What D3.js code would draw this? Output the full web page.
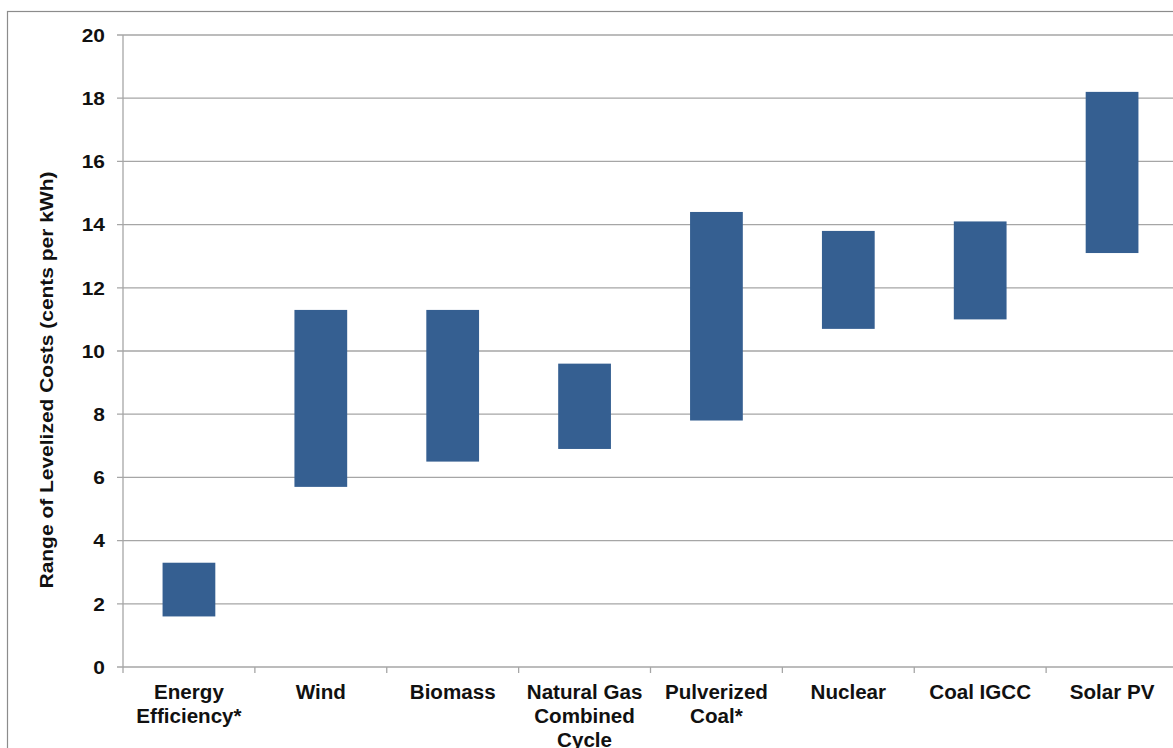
<!DOCTYPE html>
<html>
<head>
<meta charset="utf-8">
<script src="https://cdn.jsdelivr.net/npm/d3@7"></script>
<style>
  html, body { margin: 0; padding: 0; background: #fff; overflow: hidden; }
  text { font-family: "Liberation Sans", Arial, sans-serif; font-weight: bold; fill: #111; }
</style>
</head>
<body>
<div id="chart"></div>
<script>
// categories and low/high of levelized cost range (cents per kWh)
var categories = ["Energy Efficiency*", "Wind", "Biomass", "Natural Gas Combined Cycle",
    "Pulverized Coal*", "Nuclear", "Coal IGCC", "Solar PV"];
var labelLines = [["Energy", "Efficiency*"], ["Wind"], ["Biomass"], ["Natural Gas", "Combined", "Cycle"],
    ["Pulverized", "Coal*"], ["Nuclear"], ["Coal IGCC"], ["Solar PV"]];
var lowValues  = [1.6, 5.7, 6.5, 6.9, 7.8, 10.7, 11.0, 13.1];
var highValues = [3.3, 11.3, 11.3, 9.6, 14.4, 13.8, 14.1, 18.2];
var yTicks = [0, 2, 4, 6, 8, 10, 12, 14, 16, 18, 20];

var width = 1173, height = 748;
var margin = { top: 35, left: 123, bottom: 81 };
var plotRight = 1178;

var svg = d3.select("#chart").append("svg")
    .attr("width", width)
    .attr("height", height);

// outer frame
svg.append("rect")
    .attr("x", 7.5).attr("y", 11.5)
    .attr("width", 1200).attr("height", 800)
    .attr("fill", "none")
    .attr("stroke", "#8c8c8c")
    .attr("stroke-width", 1.2);

var x = d3.scaleBand()
    .domain(categories)
    .range([margin.left, plotRight])
    .paddingInner(0.6)
    .paddingOuter(0.3);

var y = d3.scaleLinear()
    .domain([0, 20])
    .range([height - margin.bottom, margin.top]);

// gridlines
svg.append("g")
    .selectAll("line")
    .data(yTicks)
    .enter().append("line")
    .attr("x1", margin.left - 6)
    .attr("x2", width)
    .attr("y1", function(d) { return y(d); })
    .attr("y2", function(d) { return y(d); })
    .attr("stroke", "#a6a6a6")
    .attr("stroke-width", 1.3);

// y axis line
svg.append("line")
    .attr("x1", margin.left).attr("x2", margin.left)
    .attr("y1", y(20)).attr("y2", y(0))
    .attr("stroke", "#a6a6a6")
    .attr("stroke-width", 1.3);

// y tick labels
svg.append("g")
    .selectAll("text")
    .data(yTicks)
    .enter().append("text")
    .attr("transform", function(d) {
        return "translate(" + (margin.left - 18) + "," + y(d) + ") scale(1.1,1)";
    })
    .attr("dy", "0.36em")
    .attr("text-anchor", "end")
    .style("font-size", "19px")
    .text(function(d) { return d; });

// category boundary ticks
var step = x.step();
svg.append("g")
    .selectAll("line")
    .data(d3.range(categories.length + 1))
    .enter().append("line")
    .attr("x1", function(i) { return margin.left + i * step; })
    .attr("x2", function(i) { return margin.left + i * step; })
    .attr("y1", y(0))
    .attr("y2", y(0) + 6)
    .attr("stroke", "#a6a6a6")
    .attr("stroke-width", 1.3);

// range bars
svg.append("g")
    .selectAll("rect")
    .data(categories)
    .enter().append("rect")
    .attr("x", function(d) { return x(d); })
    .attr("width", x.bandwidth())
    .attr("y", function(d, i) { return y(highValues[i]); })
    .attr("height", function(d, i) { return y(lowValues[i]) - y(highValues[i]); })
    .attr("fill", "#355f91");

// category labels
var labels = svg.append("g")
    .selectAll("text")
    .data(categories)
    .enter().append("text")
    .attr("text-anchor", "middle")
    .attr("transform", function(d) {
        return "translate(" + (x(d) + x.bandwidth() / 2) + "," + (y(0) + 32) + ") scale(1.03,1)";
    })
    .style("font-size", "20px");

labels.selectAll("tspan")
    .data(function(d, i) { return labelLines[i]; })
    .enter().append("tspan")
    .attr("x", 0)
    .attr("dy", function(d, i) { return i === 0 ? 0 : 24; })
    .text(function(d) { return d; });

// y axis title
svg.append("text")
    .attr("transform", "translate(53,380) rotate(-90)")
    .attr("text-anchor", "middle")
    .attr("textLength", 417)
    .attr("lengthAdjust", "spacingAndGlyphs")
    .style("font-size", "18px")
    .text("Range of Levelized  Costs (cents per kWh)");
</script>
</body>
</html>
